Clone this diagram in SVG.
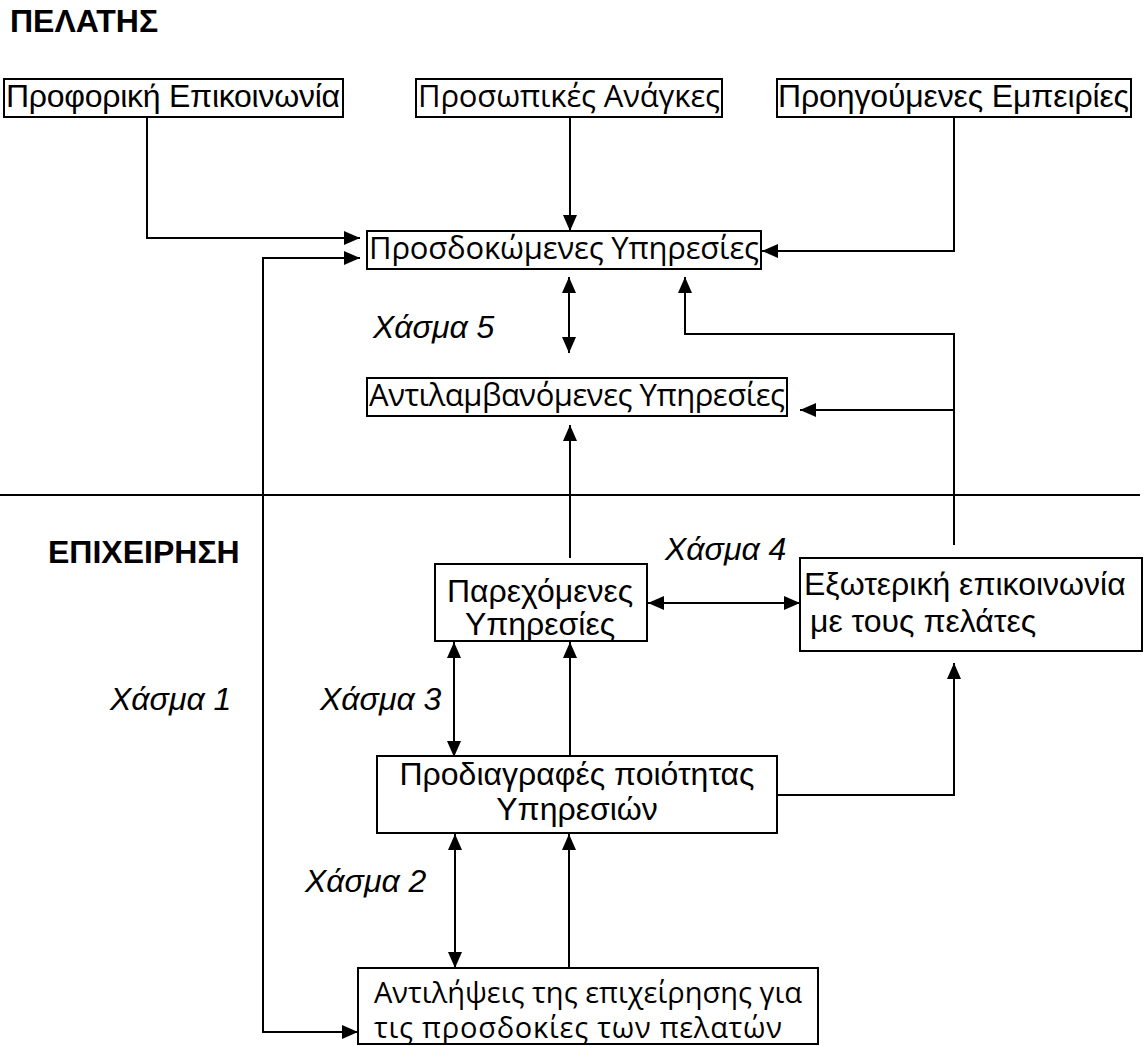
<svg xmlns="http://www.w3.org/2000/svg" width="1145" height="1046" viewBox="0 0 1145 1046">
<style>
.box{fill:#fff;stroke:#000;stroke-width:2}
.a{font-family:"Liberation Sans",Arial,sans-serif;font-size:32px;fill:#000}
.h{font-family:"Open Sans","Noto Sans",sans-serif;font-size:31px;fill:#000}
.h2{font-family:"Open Sans","Noto Sans",sans-serif;font-size:29px;fill:#000}
.b{font-family:"Liberation Sans",Arial,sans-serif;font-size:32px;font-weight:bold;fill:#000}
.i{font-family:"Liberation Sans",Arial,sans-serif;font-size:32px;font-style:italic;fill:#000}
.c{fill:none;stroke:#000;stroke-width:2}
</style>
<defs>
<marker id="ar" viewBox="0 0 16 14" refX="16" refY="7" markerWidth="16" markerHeight="14" markerUnits="userSpaceOnUse" orient="auto-start-reverse">
<path d="M0,0 L16,7 L0,14 Z" fill="#000"/>
</marker>
</defs>
<text class="b" x="10" y="32">ΠΕΛΑΤΗΣ</text>
<text class="b" x="48" y="563">ΕΠΙΧΕΙΡΗΣΗ</text>
<g id="connectors">
<path class="c" d="M0,495 H1140"/>
<path class="c" d="M147,117 V238 H360" marker-end="url(#ar)"/>
<path class="c" d="M570,117 V231" marker-end="url(#ar)"/>
<path class="c" d="M954,117 V251 H762" marker-end="url(#ar)"/>
<path class="c" d="M569,277 V353" marker-start="url(#ar)" marker-end="url(#ar)"/>
<path class="c" d="M954,545 V334 H685 V277" marker-end="url(#ar)"/>
<path class="c" d="M954,410 H800" marker-end="url(#ar)"/>
<path class="c" d="M570,558 V425" marker-end="url(#ar)"/>
<path class="c" d="M648,603 H800" marker-start="url(#ar)" marker-end="url(#ar)"/>
<path class="c" d="M777,795 H954 V663" marker-end="url(#ar)"/>
<path class="c" d="M454,642 V757" marker-start="url(#ar)" marker-end="url(#ar)"/>
<path class="c" d="M570,757 V642" marker-end="url(#ar)"/>
<path class="c" d="M455,834 V968" marker-start="url(#ar)" marker-end="url(#ar)"/>
<path class="c" d="M569,968 V834" marker-end="url(#ar)"/>
<path class="c" d="M360,258 H263 V1032 H358" marker-start="url(#ar)" marker-end="url(#ar)"/>
</g>
<g id="n-proforiki"><rect class="box" x="4" y="79" width="339" height="38"/><text class="a" x="6" y="107" textLength="334">Προφορική Επικοινωνία</text></g>
<g id="n-prosopikes"><rect class="box" x="416" y="79" width="306" height="38"/><text class="h" x="418" y="107" textLength="302">Προσωπικές Ανάγκες</text></g>
<g id="n-proigoumenes"><rect class="box" x="777" y="79" width="354" height="38"/><text class="a" x="778" y="107" textLength="351">Προηγούμενες Εμπειρίες</text></g>
<g id="n-prosdokomenes"><rect class="box" x="367" y="231" width="394" height="38"/><text class="h" x="369" y="259" textLength="390">Προσδοκώμενες Υπηρεσίες</text></g>
<g id="n-antilamvanomenes"><rect class="box" x="367" y="378" width="420" height="38"/><text class="h" x="369" y="406" textLength="416">Αντιλαμβανόμενες Υπηρεσίες</text></g>
<g id="n-parexomenes"><rect class="box" x="435" y="564" width="212" height="77"/><text class="a" x="540" y="602" text-anchor="middle">Παρεχόμενες</text><text class="a" x="540" y="635" text-anchor="middle">Υπηρεσίες</text></g>
<g id="n-exoteriki"><rect class="box" x="800" y="558" width="342" height="93"/><text class="a" x="804" y="595">Εξωτερική επικοινωνία</text><text class="a" x="810" y="632">με τους πελάτες</text></g>
<g id="n-prodiagrafes"><rect class="box" x="377" y="756" width="400" height="77"/><text class="a" x="577" y="785" text-anchor="middle">Προδιαγραφές ποιότητας</text><text class="a" x="577" y="820" text-anchor="middle">Υπηρεσιών</text></g>
<g id="n-antilipseis"><rect class="box" x="358" y="968" width="460" height="76"/><text class="h2" x="374" y="1003" textLength="428">Αντιλήψεις της επιχείρησης για</text><text class="h2" x="374" y="1038" textLength="408">τις προσδοκίες των πελατών</text></g>
<g id="labels">
<text class="i" x="373" y="338">Χάσμα 5</text>
<text class="i" x="665" y="560">Χάσμα 4</text>
<text class="i" x="110" y="710">Χάσμα 1</text>
<text class="i" x="320" y="710">Χάσμα 3</text>
<text class="i" x="305" y="892">Χάσμα 2</text>
</g>
</svg>
